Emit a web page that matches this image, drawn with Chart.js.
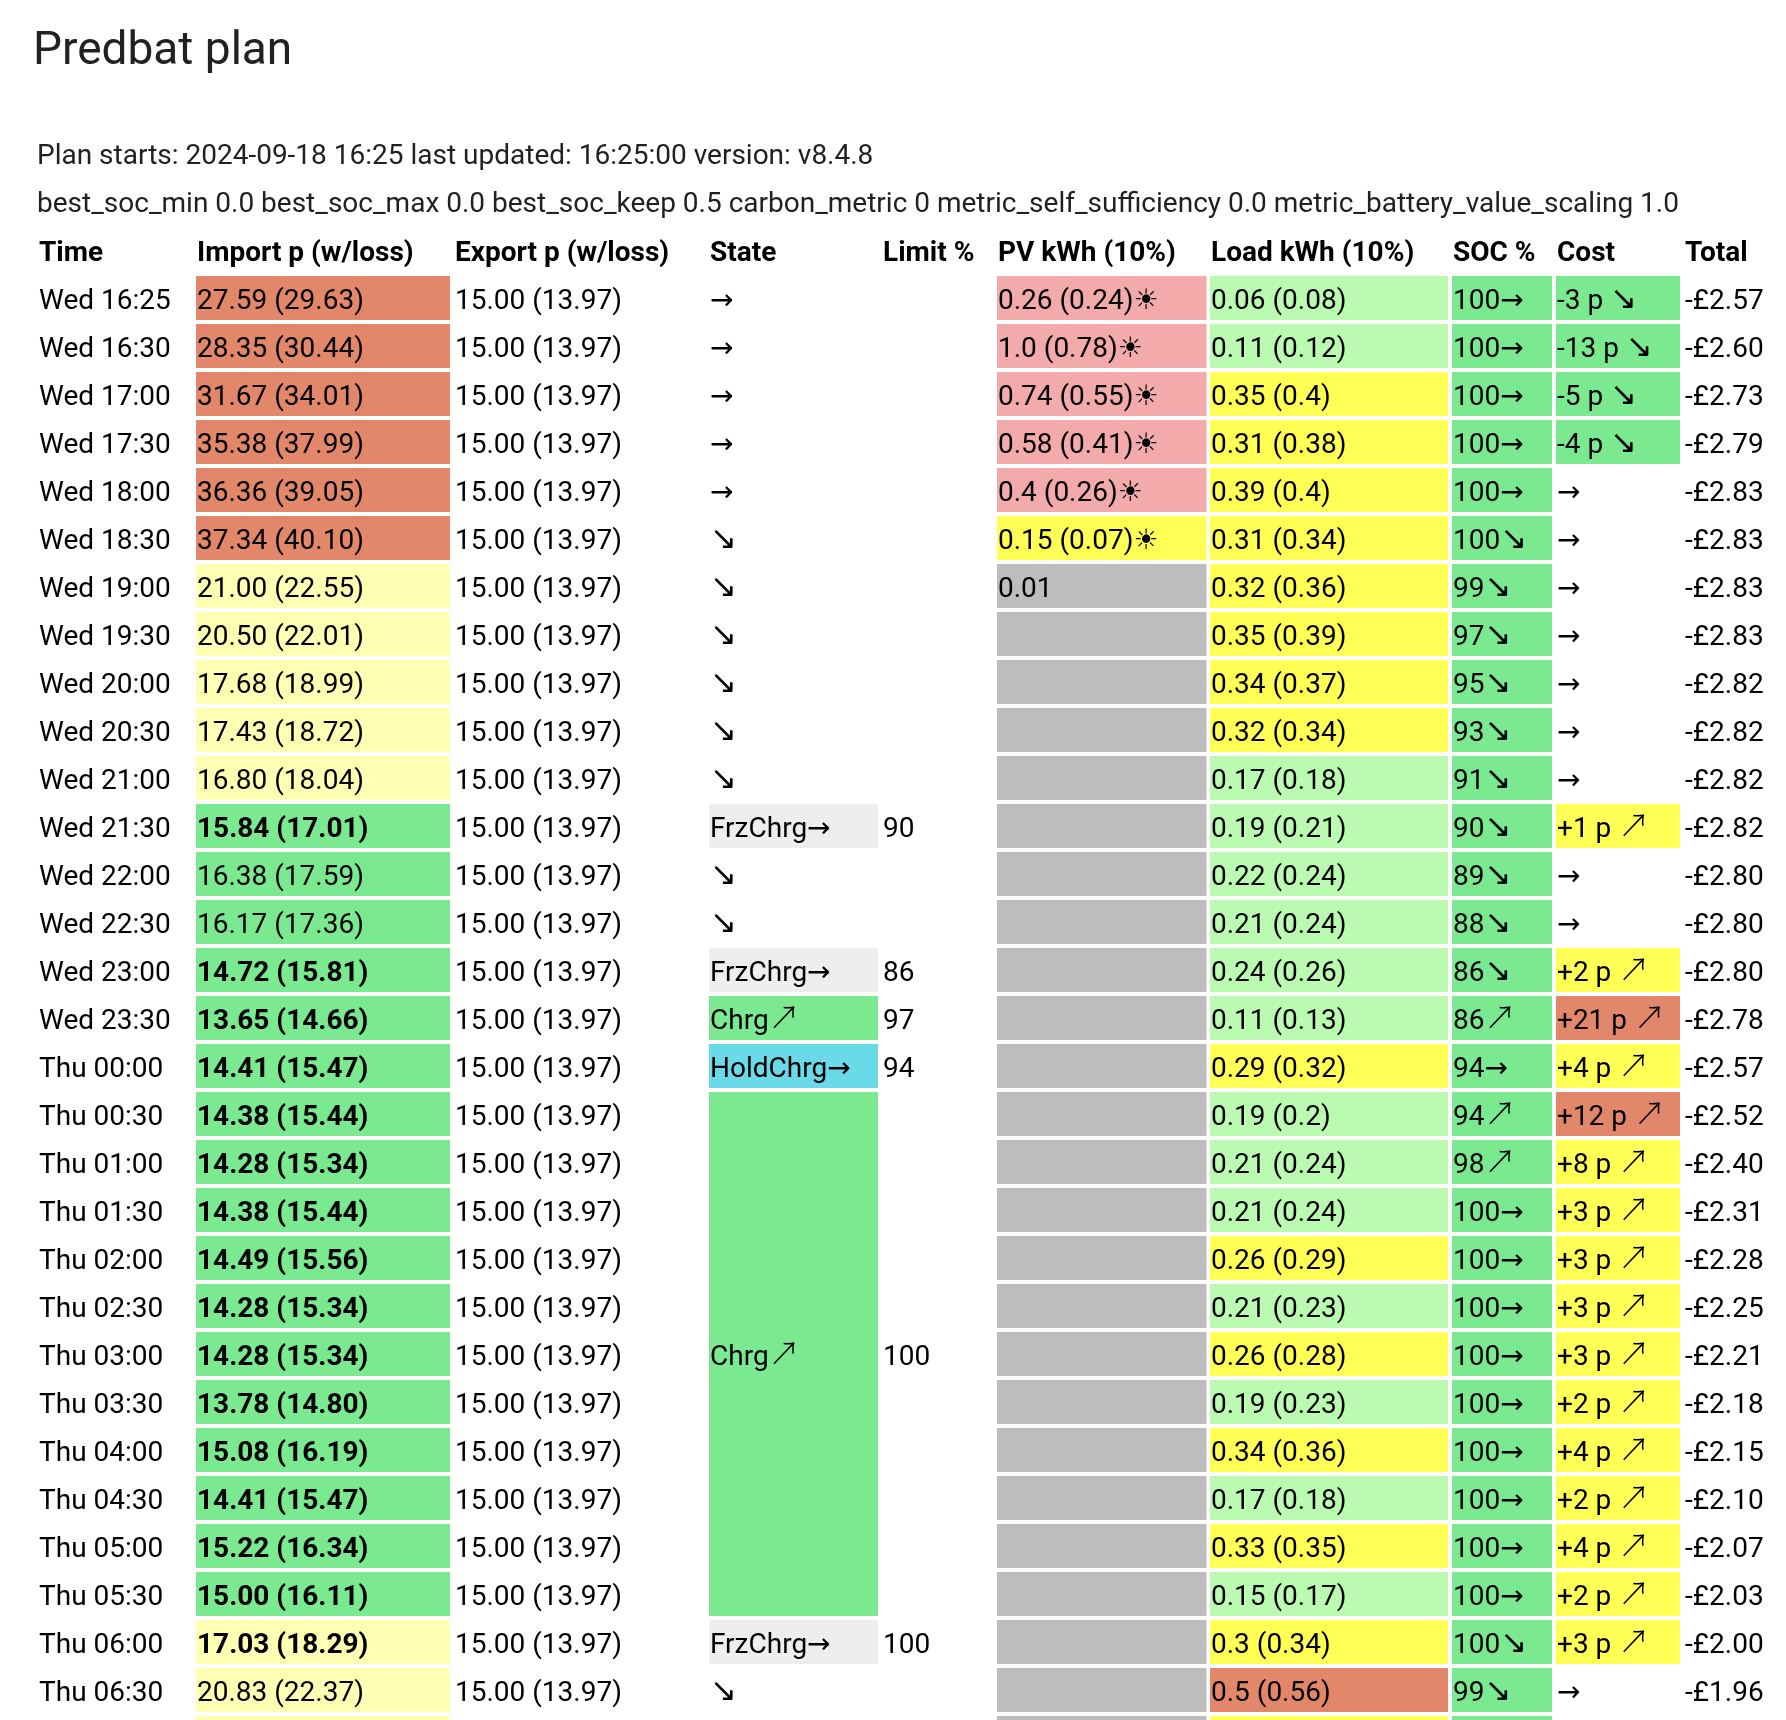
<!DOCTYPE html>
<html><head><meta charset="utf-8">
<script src="https://cdn.jsdelivr.net/npm/chart.js@4.4.1/dist/chart.umd.min.js"></script>
<style>html,body{margin:0;padding:0;background:#fff;}#wrap{width:1786px;height:1720px;position:relative;}</style>
</head><body><div id="wrap"><canvas id="c"></canvas></div>
<script>
// ---------- DATA ----------
const titleText = 'Predbat plan';
const planStartLine = 'Plan starts: 2024-09-18 16:25 last updated: 16:25:00 version: v8.4.8';
const settingsLine = 'best_soc_min 0.0 best_soc_max 0.0 best_soc_keep 0.5 carbon_metric 0 metric_self_sufficiency 0.0 metric_battery_value_scaling 1.0';
const headers = ['Time','Import p (w/loss)','Export p (w/loss)','State','Limit %','PV kWh (10%)','Load kWh (10%)','SOC %','Cost','Total'];

const times = ['Wed 16:25','Wed 16:30','Wed 17:00','Wed 17:30','Wed 18:00','Wed 18:30','Wed 19:00','Wed 19:30','Wed 20:00','Wed 20:30','Wed 21:00','Wed 21:30','Wed 22:00','Wed 22:30','Wed 23:00','Wed 23:30','Thu 00:00','Thu 00:30','Thu 01:00','Thu 01:30','Thu 02:00','Thu 02:30','Thu 03:00','Thu 03:30','Thu 04:00','Thu 04:30','Thu 05:00','Thu 05:30','Thu 06:00','Thu 06:30','Thu 07:00'];

const importRate = [27.59,28.35,31.67,35.38,36.36,37.34,21.00,20.50,17.68,17.43,16.80,15.84,16.38,16.17,14.72,13.65,14.41,14.38,14.28,14.38,14.49,14.28,14.28,13.78,15.08,14.41,15.22,15.00,17.03,20.83,null];
const importLoss = [29.63,30.44,34.01,37.99,39.05,40.10,22.55,22.01,18.99,18.72,18.04,17.01,17.59,17.36,15.81,14.66,15.47,15.44,15.34,15.44,15.56,15.34,15.34,14.80,16.19,15.47,16.34,16.11,18.29,22.37,null];
const importBold = [0,0,0,0,0,0,0,0,0,0,0,1,0,0,1,1,1,1,1,1,1,1,1,1,1,1,1,1,1,0,0];
const importColor = ['red','red','red','red','red','red','ly','ly','ly','ly','ly','green','green','green','green','green','green','green','green','green','green','green','green','green','green','green','green','green','ly','ly','ly'];

const exportRate = [15.00,15.00,15.00,15.00,15.00,15.00,15.00,15.00,15.00,15.00,15.00,15.00,15.00,15.00,15.00,15.00,15.00,15.00,15.00,15.00,15.00,15.00,15.00,15.00,15.00,15.00,15.00,15.00,15.00,15.00,null];
const exportLoss = [13.97,13.97,13.97,13.97,13.97,13.97,13.97,13.97,13.97,13.97,13.97,13.97,13.97,13.97,13.97,13.97,13.97,13.97,13.97,13.97,13.97,13.97,13.97,13.97,13.97,13.97,13.97,13.97,13.97,13.97,null];

const stateText = ['→','→','→','→','→','↘','↘','↘','↘','↘','↘','FrzChrg→','↘','↘','FrzChrg→','Chrg↗','HoldChrg→','Chrg↗','','','','','','','','','','','FrzChrg→','↘',''];
const stateSpan = [1,1,1,1,1,1,1,1,1,1,1,1,1,1,1,1,1,11,0,0,0,0,0,0,0,0,0,0,1,1,1];
const stateColor = [null,null,null,null,null,null,null,null,null,null,null,'frz',null,null,'frz','green','cyan','green',null,null,null,null,null,null,null,null,null,null,'frz',null,null];
const limitPct = [null,null,null,null,null,null,null,null,null,null,null,90,null,null,86,97,94,100,null,null,null,null,null,null,null,null,null,null,100,null,null];

const pvKwh = [0.26,1.0,0.74,0.58,0.4,0.15,0.01,null,null,null,null,null,null,null,null,null,null,null,null,null,null,null,null,null,null,null,null,null,null,null,null];
const pvLoss = [0.24,0.78,0.55,0.41,0.26,0.07,null,null,null,null,null,null,null,null,null,null,null,null,null,null,null,null,null,null,null,null,null,null,null,null,null];
const pvColor = ['pink','pink','pink','pink','pink','yellow','grey','grey','grey','grey','grey','grey','grey','grey','grey','grey','grey','grey','grey','grey','grey','grey','grey','grey','grey','grey','grey','grey','grey','grey','grey'];

const loadKwh = [0.06,0.11,0.35,0.31,0.39,0.31,0.32,0.35,0.34,0.32,0.17,0.19,0.22,0.21,0.24,0.11,0.29,0.19,0.21,0.21,0.26,0.21,0.26,0.19,0.34,0.17,0.33,0.15,0.3,0.5,null];
const loadLoss = [0.08,0.12,0.4,0.38,0.4,0.34,0.36,0.39,0.37,0.34,0.18,0.21,0.24,0.24,0.26,0.13,0.32,0.2,0.24,0.24,0.29,0.23,0.28,0.23,0.36,0.18,0.35,0.17,0.34,0.56,null];
const loadColor = ['lg','lg','yellow','yellow','yellow','yellow','yellow','yellow','yellow','yellow','lg','lg','lg','lg','lg','lg','yellow','lg','lg','lg','yellow','lg','yellow','lg','yellow','lg','yellow','lg','yellow','red','yellow'];

const socPct = [100,100,100,100,100,100,99,97,95,93,91,90,89,88,86,86,94,94,98,100,100,100,100,100,100,100,100,100,100,99,null];
const socArrow = ['→','→','→','→','→','↘','↘','↘','↘','↘','↘','↘','↘','↘','↘','↗','→','↗','↗','→','→','→','→','→','→','→','→','→','↘','↘',''];
const socColor = ['green','green','green','green','green','green','green','green','green','green','green','green','green','green','green','green','green','green','green','green','green','green','green','green','green','green','green','green','green','green','green'];

const costPence = [-3,-13,-5,-4,0,0,0,0,0,0,0,1,0,0,2,21,4,12,8,3,3,3,3,2,4,2,4,2,3,0,null];
const costColor = ['green','green','green','green',null,null,null,null,null,null,null,'yellow',null,null,'yellow','red','yellow','red','yellow','yellow','yellow','yellow','yellow','yellow','yellow','yellow','yellow','yellow','yellow',null,null];

const totalPounds = [-2.57,-2.60,-2.73,-2.79,-2.83,-2.83,-2.83,-2.83,-2.82,-2.82,-2.82,-2.82,-2.80,-2.80,-2.80,-2.78,-2.57,-2.52,-2.40,-2.31,-2.28,-2.25,-2.21,-2.18,-2.15,-2.10,-2.07,-2.03,-2.00,-1.96,null];

// ---------- STYLE / LAYOUT ----------
const PALETTE = {red:'#E2876A', ly:'#FFFFB3', green:'#7AE98F', pink:'#F2ABAA', lg:'#BBFBB1', yellow:'#FFFF55', grey:'#BDBDBD', frz:'#EEEEEE', cyan:'#6AD9E8'};
const COLS = {time:[38,192], imp:[196,450], exp:[454,705], state:[709,878], limit:[882,993], pv:[997,1206.5], load:[1210,1448], soc:[1452,1552], cost:[1556,1680], total:[1684,1786]};
const headerCols = ['time','imp','exp','state','limit','pv','load','soc','cost','total'];
const ROW_FILL = 44/48;
const FONT = 'Roboto';
// glyph fallbacks: [font family, size factor, weight]
const GLYPH_FONT = {'↗': ['"Noto Sans CJK JP"', 1.12, '300'], '↘': ['"DejaVu Sans"', 1.15, 'normal'], '→': ['"DejaVu Sans"', 1, 'normal'], '☀': ['"DejaVu Sans"', 1, 'normal']};

// ---------- helpers ----------
const kwh = v => Number.isInteger(v) ? v.toFixed(1) : String(v);
function cells(col, colors, spans) {
  const out = [];
  colors.forEach((c, i) => {
    if (!c) return;
    if (spans && spans[i] > 1) return;
    out.push({x: COLS[col].slice(), y: i, c});
  });
  return out;
}
function spanCells(col, colors, spans) {
  const out = [];
  spans.forEach((s, i) => { if (s > 1 && colors[i]) out.push({x: COLS[col].slice(), y: i + (s - 1) / 2, c: colors[i], s}); });
  return out;
}
const bg = ctx => (ctx.raw && ctx.raw.c) ? PALETTE[ctx.raw.c] : 'rgba(0,0,0,0)';
function ds(data, pct) {
  return {data, backgroundColor: bg, borderWidth: 0, grouped: false, categoryPercentage: 1, barPercentage: pct, inflateAmount: 0};
}
const mergedState = spanCells('state', stateColor, stateSpan);
const mergedPct = mergedState.length ? (mergedState[0].s - 1 + ROW_FILL) : ROW_FILL;

const datasets = [
  ds(cells('imp', importColor), ROW_FILL),
  ds(cells('state', stateColor, stateSpan), ROW_FILL),
  ds(mergedState, mergedPct),
  ds(cells('pv', pvColor), ROW_FILL),
  ds(cells('load', loadColor), ROW_FILL),
  ds(cells('soc', socColor), ROW_FILL),
  ds(cells('cost', costColor), ROW_FILL)
];

function drawRuns(ctx, txt, x, y, size, weight) {
  let cx = x, buf = '';
  const flush = () => {
    if (!buf) return;
    ctx.font = `${weight} ${size}px ${FONT}, "DejaVu Sans", sans-serif`;
    ctx.fillText(buf, cx, y);
    cx += ctx.measureText(buf).width;
    buf = '';
  };
  for (const ch of txt) {
    const g = GLYPH_FONT[ch];
    if (g) {
      flush();
      ctx.font = `${g[2]} ${size * g[1]}px ${g[0]}, sans-serif`;
      ctx.fillText(ch, cx, y);
      cx += ctx.measureText(ch).width;
    } else buf += ch;
  }
  flush();
}

const tableText = {
  id: 'tableText',
  afterDatasetsDraw(chart) {
    const {ctx, scales: {x, y}} = chart;
    ctx.save();
    ctx.textAlign = 'left';
    ctx.textBaseline = 'alphabetic';
    const put = (txt, col, row, size, weight, color) => {
      if (txt === null || txt === undefined || txt === '') return;
      ctx.fillStyle = color;
      drawRuns(ctx, txt, x.getPixelForValue(COLS[col][0] + 1), y.getPixelForValue(row) + size * 0.375, size, weight);
    };
    // info lines
    ctx.fillStyle = '#212121';
    ctx.font = `normal 28px ${FONT}`;
    ctx.fillText(planStartLine, x.getPixelForValue(37), y.getPixelForValue(-3) + 9.5);
    ctx.fillText(settingsLine, x.getPixelForValue(37), y.getPixelForValue(-2) + 9.5);
    // headers
    headers.forEach((h, k) => put(h, headerCols[k], -1, 28, 'bold', '#000'));
    // rows
    const S = 28, C = '#000';
    times.forEach((t, i) => {
      put(t, 'time', i, S, 'normal', C);
      if (importRate[i] !== null) put(`${importRate[i].toFixed(2)} (${importLoss[i].toFixed(2)})`, 'imp', i, S, importBold[i] ? 'bold' : 'normal', C);
      if (exportRate[i] !== null) put(`${exportRate[i].toFixed(2)} (${exportLoss[i].toFixed(2)})`, 'exp', i, S, 'normal', C);
      const span = stateSpan[i];
      const mid = i + (span - 1) / 2;
      if (span >= 1) {
        put(stateText[i], 'state', mid, S, 'normal', C);
        if (limitPct[i] !== null) put(String(limitPct[i]), 'limit', mid, S, 'normal', C);
      }
      if (pvKwh[i] !== null) put(pvLoss[i] !== null ? `${kwh(pvKwh[i])} (${kwh(pvLoss[i])})☀` : kwh(pvKwh[i]), 'pv', i, S, 'normal', C);
      if (loadKwh[i] !== null) put(`${kwh(loadKwh[i])} (${kwh(loadLoss[i])})`, 'load', i, S, 'normal', C);
      if (socPct[i] !== null) put(`${socPct[i]}${socArrow[i]}`, 'soc', i, S, 'normal', C);
      if (costPence[i] !== null) {
        const v = costPence[i];
        put(v === 0 ? '→' : (v > 0 ? `+${v} p ↗` : `${v} p ↘`), 'cost', i, S, 'normal', C);
      }
      if (totalPounds[i] !== null) put(`${totalPounds[i] < 0 ? '-' : ''}£${Math.abs(totalPounds[i]).toFixed(2)}`, 'total', i, S, 'normal', C);
    });
    ctx.restore();
  }
};

new Chart(document.getElementById('c'), {
  type: 'bar',
  data: {datasets},
  options: {
    indexAxis: 'y',
    responsive: true,
    maintainAspectRatio: false,
    animation: false,
    layout: {padding: {left: 33, right: 0, top: 0, bottom: 0}},
    scales: {
      x: {type: 'linear', min: 33, max: 1786, display: false, offset: false},
      y: {type: 'linear', min: -3.5, max: 29.625, reverse: true, display: false, offset: false,
          ticks: {stepSize: 1, includeBounds: false},
          afterBuildTicks: s => { s.ticks = times.map((_, i) => ({value: i})); }}
    },
    plugins: {
      legend: {display: false},
      tooltip: {enabled: false},
      title: {display: true, text: titleText, align: 'start', color: '#212121',
              font: {family: FONT, size: 46, weight: 'normal', lineHeight: 1.2},
              padding: {top: 24.7, bottom: 50.1}}
    }
  },
  plugins: [tableText]
});
</script>
</body></html>
